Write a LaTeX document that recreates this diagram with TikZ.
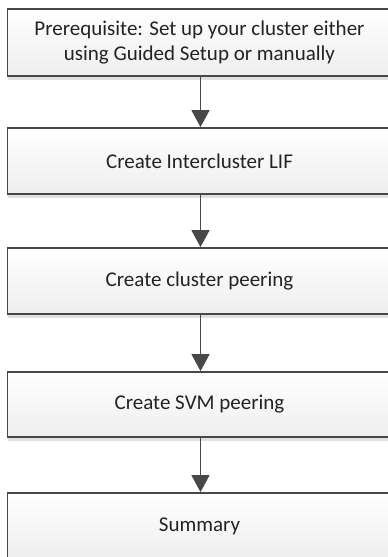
\documentclass[tikz,border=0pt]{standalone}
\usepackage{fontspec}
\setmainfont{Carlito}
\usetikzlibrary{arrows.meta,shadows}
\definecolor{boxline}{RGB}{72,72,72}
\definecolor{txt}{RGB}{35,35,35}
\tikzset{
  stepbox/.style={rectangle, draw=boxline, line width=1.8pt,
    top color=white, bottom color={rgb,255:red,238;green,238;blue,238},
    minimum width=384pt, inner sep=0pt, align=center, text=txt,
    font=\fontsize{21}{25}\selectfont,
    drop shadow={shadow xshift=0pt, shadow yshift=-3.5pt, fill=black!12, opacity=1}},
  flow/.style={draw=boxline, line width=1.5pt, -{Triangle[width=18pt,length=17pt]}}
}
\begin{document}
\begin{tikzpicture}[x=1pt,y=-1pt]
\useasboundingbox (0,0) rectangle (388,557);
\clip (0,0) rectangle (388,557);
\node[stepbox, minimum height=67pt] (b1) at (199.5,42.5) {Prerequisite: Set up your cluster either\\using Guided Setup or manually};
\node[stepbox, minimum height=66pt] (b2) at (199.5,161) {Create Intercluster LIF};
\node[stepbox, minimum height=66pt] (b3) at (199.5,281) {Create cluster peering};
\node[stepbox, minimum height=65pt] (b4) at (199.5,404.5) {Create SVM peering};
\node[stepbox, minimum height=66pt] (b5) at (199.5,526) {Summary};
\draw[flow] (b1.south -| 200.5,0) -- (b2.north -| 200.5,0);
\draw[flow] (b2.south -| 200.5,0) -- (b3.north -| 200.5,0);
\draw[flow] (b3.south -| 200.5,0) -- (b4.north -| 200.5,0);
\draw[flow] (b4.south -| 200.5,0) -- (b5.north -| 200.5,0);
\end{tikzpicture}
\end{document}
